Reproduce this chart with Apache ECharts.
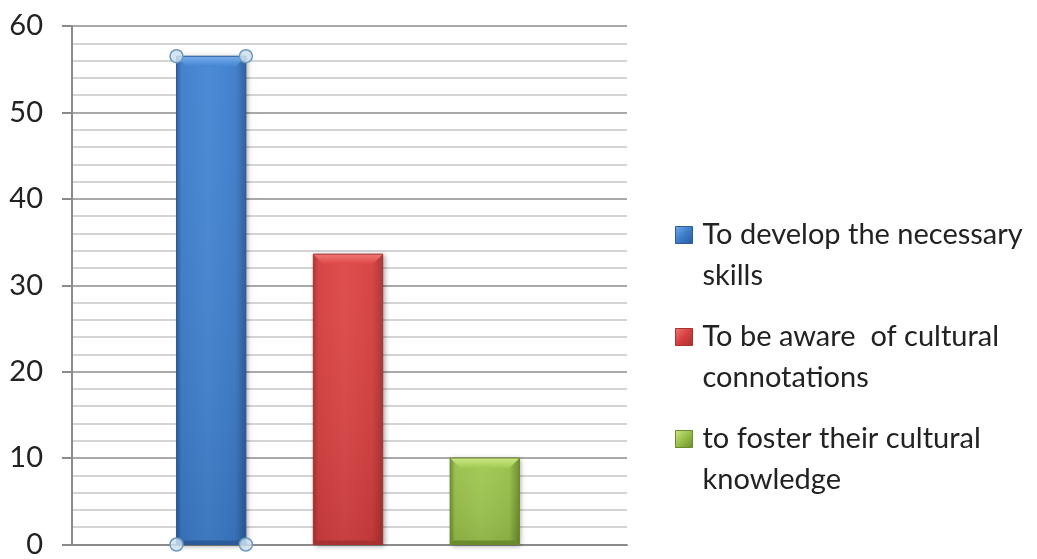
<!DOCTYPE html>
<html>
<head>
<meta charset="utf-8">
<script src="https://cdn.jsdelivr.net/npm/echarts@6/dist/echarts.min.js"></script>
<style>
  html, body { margin: 0; padding: 0; background: #ffffff; }
  #chart { width: 1037px; height: 559px; }
</style>
</head>
<body>
<div id="chart"></div>
<script>
// Survey answers: one category, three bars
const categories = [''];
const seriesNames = [
  'To develop the necessary skills',
  'To be aware  of cultural connotations',
  'to foster their cultural knowledge'
];
const legendLines = [
  ['To develop the necessary', 'skills'],
  ['To be aware  of cultural', 'connotations'],
  ['to foster their cultural', 'knowledge']
];
const seriesValues = [56.5, 33.6, 10];
const yTicks = [0, 10, 20, 30, 40, 50, 60];

// Bevelled bar palette: [edge, body, highlight, bevel-top]
const palettes = [
  ['#2b5b98', '#3d7ccb', '#4486d4', '#78aceb'],
  ['#a83232', '#d63e3e', '#dd4747', '#f27878'],
  ['#6b8b2d', '#97bf48', '#a0c852', '#cde987']
];

const chart = echarts.init(document.getElementById('chart'), null, { renderer: 'canvas' });

function bevelBar(params, api) {
  const i = params.seriesIndex;
  const pal = palettes[i];
  const cat = api.value(0);
  const base = api.coord([cat, 0]);
  const top = api.coord([cat, api.value(1)]);
  const band = api.size([1, 0])[0];
  const w = band * 0.125;
  const cx = base[0] - 1.5 + (i - 1) * band * 0.2465;
  const x0 = cx - w / 2, x1 = cx + w / 2;
  const y0 = top[1], y1 = base[1];
  const b = 10;
  const children = [
    {
      type: 'rect',
      shape: { x: x0, y: y0, width: w, height: y1 - y0 },
      style: {
        fill: new echarts.graphic.LinearGradient(0, 0, 1, 0, [
          { offset: 0, color: pal[0] },
          { offset: 0.07, color: pal[1] },
          { offset: 0.45, color: pal[2] },
          { offset: 0.85, color: pal[1] },
          { offset: 1, color: pal[0] }
        ]),
        shadowBlur: 5,
        shadowOffsetX: 2,
        shadowOffsetY: 1,
        shadowColor: 'rgba(0,0,0,0.35)'
      }
    },
    {
      type: 'rect',
      shape: { x: x0, y: y0, width: w, height: y1 - y0 },
      style: {
        fill: new echarts.graphic.LinearGradient(0, 0, 0, 1, [
          { offset: 0, color: 'rgba(255,255,255,0.04)' },
          { offset: 1, color: 'rgba(0,0,0,0.1)' }
        ])
      }
    },
    {
      type: 'polygon',
      shape: { points: [[x0, y0], [x1, y0], [x1 - b, y0 + b], [x0 + b, y0 + b]] },
      style: {
        fill: new echarts.graphic.LinearGradient(0, 0, 0, 1, [
          { offset: 0, color: pal[3] },
          { offset: 1, color: pal[2] }
        ])
      }
    },
    {
      type: 'polygon',
      shape: { points: [[x0, y1], [x1, y1], [x1 - 4, y1 - 4], [x0 + 4, y1 - 4]] },
      style: { fill: pal[0] }
    },
    {
      type: 'rect',
      shape: { x: x0, y: y0, width: w, height: y1 - y0 },
      style: { fill: 'none', stroke: pal[0], lineWidth: 1 }
    }
  ];
  // selection handles on the highlighted first bar
  if (i === 0) {
    [[x0, y0], [x1, y0], [x0, y1], [x1, y1]].forEach(function (p) {
      children.push({
        type: 'circle',
        shape: { cx: p[0], cy: p[1], r: 6.5 },
        style: { fill: 'rgba(205,225,238,0.85)', stroke: '#6f98bd', lineWidth: 1.5 }
      });
    });
  }
  return { type: 'group', children: children };
}

// Each entry: a blank lead line keeps the marker level with the first text line
const legendIconCenters = [235, 337, 439];
const lineH = 41;
const legends = seriesNames.map(function (name, i) {
  return {
    orient: 'vertical',
    left: 675,
    top: legendIconCenters[i] - lineH * 1.5,
    padding: 0,
    itemWidth: 17,
    itemHeight: 17,
    selectedMode: false,
    data: [{
      name: name,
      icon: 'rect',
      itemStyle: {
        color: new echarts.graphic.LinearGradient(0, 0, 1, 1, [
          { offset: 0, color: palettes[i][3] },
          { offset: 0.5, color: palettes[i][1] },
          { offset: 1, color: palettes[i][0] }
        ]),
        borderColor: palettes[i][0],
        borderWidth: 1
      }
    }],
    formatter: function () { return ' \n' + legendLines[i].join('\n'); },
    textStyle: {
      fontFamily: 'Lato',
      fontSize: 29,
      color: '#222222',
      lineHeight: lineH,
      padding: [0, 0, 0, 5]
    }
  };
});

chart.setOption({
  animation: false,
  backgroundColor: '#ffffff',
  grid: { left: 72, right: 410, top: 26, bottom: 13, containLabel: false },
  legend: legends,
  xAxis: {
    type: 'category',
    data: categories,
    axisLine: { show: true, lineStyle: { color: '#8a8a8a', width: 2 } },
    axisTick: { show: false },
    axisLabel: { show: false },
    splitLine: { show: false }
  },
  yAxis: {
    type: 'value',
    min: yTicks[0],
    max: yTicks[yTicks.length - 1],
    interval: 10,
    axisLine: { show: true, lineStyle: { color: '#8a8a8a', width: 2 } },
    axisTick: { show: true, length: 10, lineStyle: { color: '#8a8a8a', width: 2 } },
    axisLabel: {
      margin: 29,
      fontFamily: 'Lato',
      fontSize: 29,
      color: '#222222'
    },
    splitLine: { show: true, lineStyle: { color: '#8c8c8c', width: 1.6 } },
    minorTick: { show: false, splitNumber: 5 },
    minorSplitLine: { show: true, lineStyle: { color: '#c6c6c6', width: 1.6 } }
  },
  series: seriesNames.map(function (name, i) {
    return {
      name: name,
      type: 'custom',
      renderItem: bevelBar,
      encode: { x: 0, y: 1 },
      itemStyle: { color: palettes[i][1] },
      data: [[0, seriesValues[i]]],
      z: 3
    };
  })
});
</script>
</body>
</html>
